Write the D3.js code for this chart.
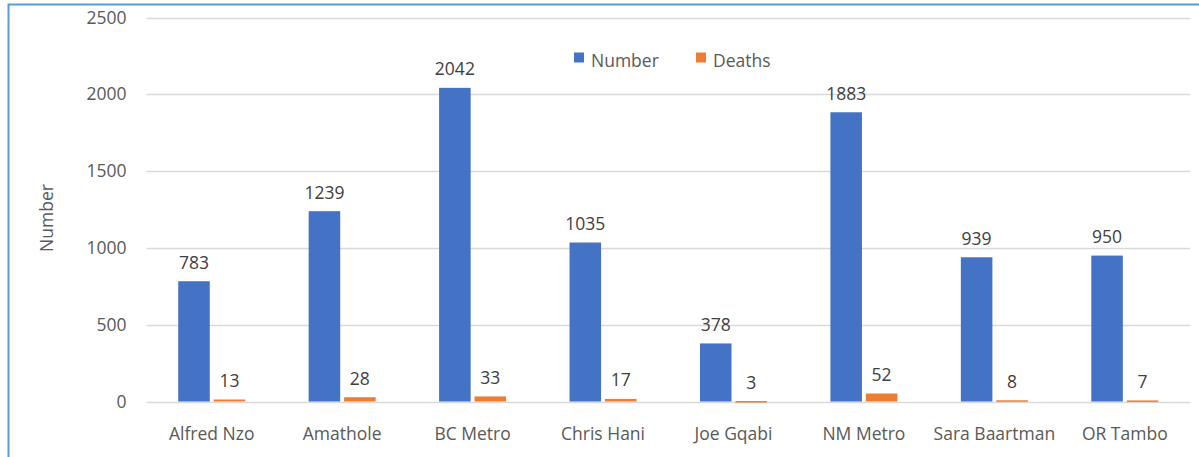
<!DOCTYPE html>
<html><head><meta charset="utf-8">
<script src="https://cdn.jsdelivr.net/npm/d3@7"></script>
<style>body{margin:0;background:#fff}svg{display:block}text{font-family:"Open Sans","Liberation Sans",sans-serif}</style>
</head><body><svg id="c" width="1199" height="457"></svg>
<script>
const categories = ["Alfred Nzo","Amathole","BC Metro","Chris Hani","Joe Gqabi","NM Metro","Sara Baartman","OR Tambo"];
const numberValues = [783,1239,2042,1035,378,1883,939,950];
const deathValues = [13,28,33,17,3,52,8,7];
const yTicks = [0,500,1000,1500,2000,2500];
const seriesNames = ["Number","Deaths"];
const colors = ["#4472C4","#ED7D31"];

(function(){
const FONT = "'Open Sans','Liberation Sans',sans-serif";
const FS = 17.5;
const svg = d3.select("#c");
svg.append("path").attr("d","M8.5,457 L8.5,4.5 L1199,4.5").attr("fill","none").attr("stroke","#5B9BD5").attr("stroke-width",2);

const pl=146.5, pr=1190, pt=17.5, pb=401.5;
const x = d3.scaleBand().domain(categories).range([pl,pr]);
const y = d3.scaleLinear().domain([0,2500]).range([pb,pt]);
const xs = d3.scaleBand().domain(seriesNames).range([0,67]).paddingInner(0.11);

svg.append("g").selectAll("line").data(yTicks).join("line")
  .attr("x1",pl).attr("x2",pr).attr("y1",d=>Math.round(y(d))+0.5).attr("y2",d=>Math.round(y(d))+0.5)
  .attr("stroke","#d9d9d9").attr("stroke-width",1.5);

const yAxis = d3.axisLeft(y).tickValues(yTicks).tickFormat(d3.format("d")).tickSize(0).tickPadding(20);
const gy = svg.append("g").attr("transform",`translate(${pl},0)`).call(yAxis);
gy.select(".domain").remove();
gy.selectAll("text").attr("font-size",FS).attr("fill","#595959").style("font-family",FONT);

const xAxis = d3.axisBottom(x).tickSize(0).tickPadding(26);
const gx = svg.append("g").attr("transform",`translate(0,${pb})`).call(xAxis);
gx.select(".domain").remove();
gx.selectAll("text").attr("font-size",FS).attr("fill","#595959").style("font-family",FONT);

const data = categories.map((c,i)=>({c, vals:[numberValues[i],deathValues[i]]}));
const groups = svg.append("g").selectAll("g").data(data).join("g")
  .attr("transform",d=>`translate(${x(d.c)+x.bandwidth()/2-33.5},0)`);
groups.selectAll("rect").data(d=>d.vals.map((v,j)=>({v,s:seriesNames[j],j}))).join("rect")
  .attr("x",d=>xs(d.s)).attr("width",xs.bandwidth())
  .attr("y",d=>y(d.v)).attr("height",d=>Math.max(pb-y(d.v),1.5))
  .attr("fill",d=>colors[d.j]);
groups.selectAll("text").data(d=>d.vals.map((v,j)=>({v,s:seriesNames[j],j}))).join("text")
  .attr("x",d=>xs(d.s)+xs.bandwidth()/2).attr("y",d=>y(d.v)-12.5)
  .attr("text-anchor","middle").attr("font-size",FS).attr("fill","#404040").text(d=>d.v);

svg.append("text").attr("transform","translate(53,218) rotate(-90)").attr("text-anchor","middle")
  .attr("font-size",FS).attr("fill","#595959").text("Number");

const legX = [574,696];
seriesNames.forEach((s,i)=>{
  svg.append("rect").attr("x",legX[i]).attr("y",52.5).attr("width",10).attr("height",10).attr("fill",colors[i]);
  svg.append("text").attr("x",legX[i]+17).attr("y",67).attr("font-size",FS).attr("fill","#595959").text(s);
});
})();
</script></body></html>
